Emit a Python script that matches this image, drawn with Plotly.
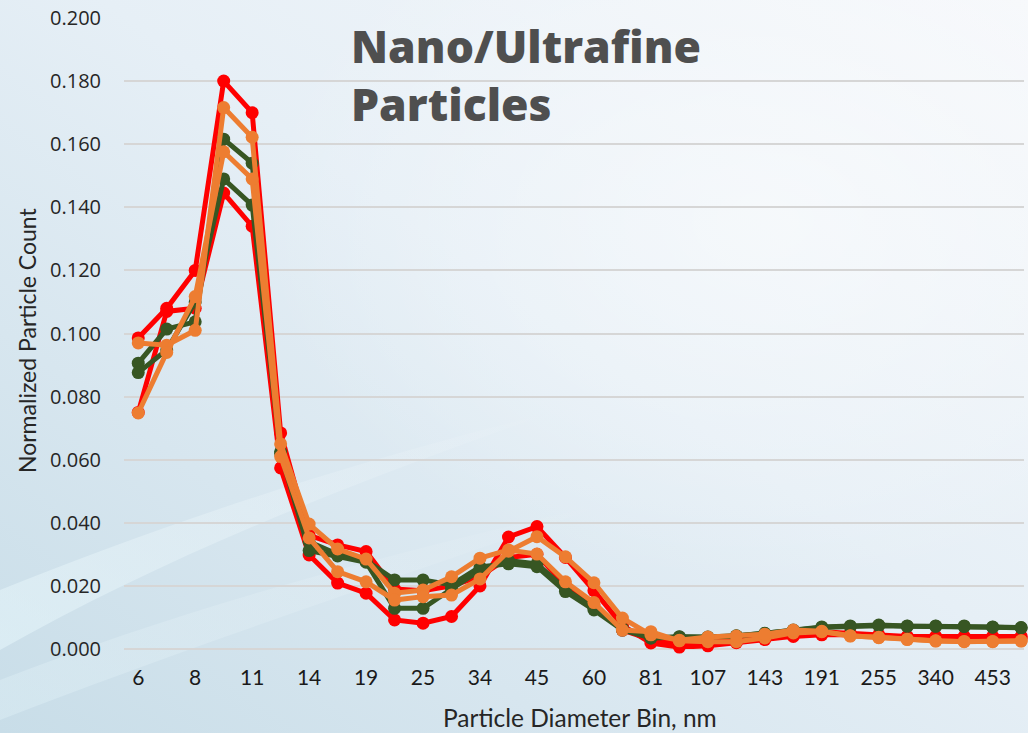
import base64
import plotly.graph_objects as go

# ---- data ----
bins = ["6", "7", "8", "9", "11", "12", "14", "16", "19", "22", "25", "29", "34", "39", "45", "52",
        "60", "70", "81", "93", "107", "124", "143", "165", "191", "221", "255", "294", "340", "393",
        "453", "524"]
tick_labels = ["6", "8", "11", "14", "19", "25", "34", "45", "60", "81", "107", "143", "191", "255", "340", "453"]

red_a = [0.0986, 0.108, 0.120, 0.180, 0.170, 0.0685, 0.036, 0.0330, 0.0309, 0.019, 0.0185, 0.020,
         0.023, 0.029, 0.030, 0.020, 0.014, 0.006, 0.003, 0.002, 0.002, 0.003, 0.004, 0.005,
         0.0055, 0.005, 0.0045, 0.004, 0.004, 0.004, 0.004, 0.004]
red_b = [0.075, 0.107, 0.108, 0.1445, 0.134, 0.0574, 0.0298, 0.0209, 0.0177, 0.0092, 0.0082, 0.0103,
         0.0200, 0.0355, 0.0388, 0.0290, 0.0185, 0.0075, 0.0019, 0.0006, 0.0010, 0.0020, 0.0030, 0.0040,
         0.0045, 0.0045, 0.0040, 0.0038, 0.0036, 0.0035, 0.0035, 0.0035]
green_a = [0.0906, 0.1014, 0.1037, 0.1616, 0.154, 0.0625, 0.034, 0.030, 0.028, 0.0219, 0.0219, 0.0203,
           0.026, 0.027, 0.0261, 0.0182, 0.0124, 0.006, 0.0035, 0.0039, 0.0038, 0.0042, 0.0050, 0.0060,
           0.0070, 0.0073, 0.0076, 0.0073, 0.0073, 0.0073, 0.0070, 0.0068]
green_b = [0.0876, 0.0948, 0.110, 0.149, 0.1407, 0.0620, 0.0312, 0.0295, 0.0275, 0.0129, 0.0129, 0.019,
           0.025, 0.028, 0.027, 0.019, 0.013, 0.0065, 0.0035, 0.0038, 0.0037, 0.0041, 0.0049, 0.0059,
           0.0068, 0.0071, 0.0074, 0.0072, 0.0072, 0.0071, 0.0069, 0.0067]
orange_a = [0.097, 0.0963, 0.101, 0.1716, 0.1622, 0.065, 0.0396, 0.0317, 0.0285, 0.0177, 0.0187, 0.0229,
            0.0288, 0.0314, 0.0301, 0.0213, 0.0147, 0.0060, 0.0055, 0.0026, 0.0023, 0.0023, 0.0035, 0.0051,
            0.0055, 0.0041, 0.0037, 0.0030, 0.0026, 0.0023, 0.0023, 0.0026]
orange_b = [0.0748, 0.094, 0.1117, 0.1576, 0.149, 0.061, 0.0352, 0.0245, 0.0213, 0.0155, 0.0166, 0.0171,
            0.0222, 0.0310, 0.0356, 0.0292, 0.0210, 0.0098, 0.0045, 0.0028, 0.0038, 0.0041, 0.0047, 0.0060,
            0.0056, 0.0042, 0.0036, 0.0031, 0.0025, 0.0024, 0.0024, 0.0025]

series = [
    ("Red A", red_a, "#ff0000"),
    ("Red B", red_b, "#ff0000"),
    ("Green A", green_a, "#375623"),
    ("Green B", green_b, "#375623"),
    ("Orange A", orange_a, "#ed7d31"),
    ("Orange B", orange_b, "#ed7d31"),
]

W, H = 1028, 733
L, R, T, B = 124, 4, 18, 84
pw, ph = W - L - R, H - T - B


def px_x(p):
    return (p - L) / pw


def px_y(p):
    return 1 - (p - T) / ph


svg = f"""<svg xmlns='http://www.w3.org/2000/svg' width='{W}' height='{H}' viewBox='0 0 {W} {H}' preserveAspectRatio='none'>
<defs>
<linearGradient id='g' x1='1' y1='0' x2='0' y2='1'>
<stop offset='0' stop-color='#f6f8fb'/>
<stop offset='0.45' stop-color='#e6eff6'/>
<stop offset='1' stop-color='#c8dde8'/>
</linearGradient>
<linearGradient id='w' x1='0' y1='1' x2='1' y2='0'>
<stop offset='0' stop-color='#e4f5fa' stop-opacity='0.6'/>
<stop offset='1' stop-color='#ffffff' stop-opacity='0'/>
</linearGradient>
<radialGradient id='h' cx='0.75' cy='0.3' r='0.5'>
<stop offset='0' stop-color='#ffffff' stop-opacity='0.5'/>
<stop offset='1' stop-color='#ffffff' stop-opacity='0'/>
</radialGradient>
</defs>
<rect width='{W}' height='{H}' fill='url(#g)'/>
<rect width='{W}' height='{H}' fill='url(#h)'/>
<path d='M0,590 C150,530 320,470 560,410 C330,490 160,560 0,650 Z' fill='url(#w)'/>
<path d='M0,680 C180,610 360,560 620,500 C360,590 180,650 0,720 Z' fill='url(#w)' opacity='0.6'/>
</svg>"""
src = "data:image/svg+xml;base64," + base64.b64encode(svg.encode()).decode()

fig = go.Figure()
for name, vals, col in series:
    fig.add_trace(go.Scatter(
        x=bins, y=vals, name=name, mode="lines+markers",
        line=dict(color=col, width=5),
        marker=dict(color=col, size=13),
        cliponaxis=False, showlegend=False,
    ))

fig.add_layout_image(dict(
    source=src, xref="paper", yref="paper",
    x=-L / pw, y=1 + T / ph, sizex=W / pw, sizey=H / ph,
    xanchor="left", yanchor="top", sizing="stretch", layer="below",
))

fig.add_annotation(text="Nano/Ultrafine<br>Particles", xref="paper", yref="paper",
                   x=px_x(349), y=px_y(74), xanchor="left", yanchor="middle", align="left",
                   showarrow=False,
                   font=dict(family="Open Sans", size=44.5, color="#4f4f4f", weight=800))

# axis titles
fig.add_annotation(text="Particle Diameter Bin, nm", xref="paper", yref="paper",
                   x=px_x(580), y=px_y(717), xanchor="center", yanchor="middle",
                   showarrow=False, font=dict(family="Lato", size=24.5, color="#262626"))
fig.add_annotation(text="Normalized Particle Count", xref="paper", yref="paper",
                   x=px_x(27), y=px_y(340), xanchor="center", yanchor="middle",
                   textangle=-90, showarrow=False,
                   font=dict(family="Lato", size=23, color="#262626"))

fig.update_layout(
    width=W, height=H,
    margin=dict(l=L, r=R, t=T, b=B),
    paper_bgcolor="#e4eef5", plot_bgcolor="rgba(0,0,0,0)",
    xaxis=dict(
        type="category", range=[-0.5, 31.1],
        tickmode="array", tickvals=tick_labels, ticktext=tick_labels,
        showgrid=False, zeroline=False, showline=False,
        ticks="outside", ticklen=10, tickcolor="rgba(0,0,0,0)",
        tickfont=dict(family="Lato", size=21, color="#1a1a1a"),
    ),
    yaxis=dict(
        range=[0, 0.2], dtick=0.02, tickformat=".3f",
        showgrid=True, gridcolor="#d6d6d6", gridwidth=2,
        zeroline=True, zerolinecolor="#d6d6d6", zerolinewidth=2,
        ticks="outside", ticklen=18, tickcolor="rgba(0,0,0,0)",
        tickfont=dict(family="Open Sans", size=20, color="#262626"),
    ),
)

fig.write_html("out.html", config={"displayModeBar": False},
               post_script="document.body.style.margin='0';document.body.style.overflow='hidden';")
